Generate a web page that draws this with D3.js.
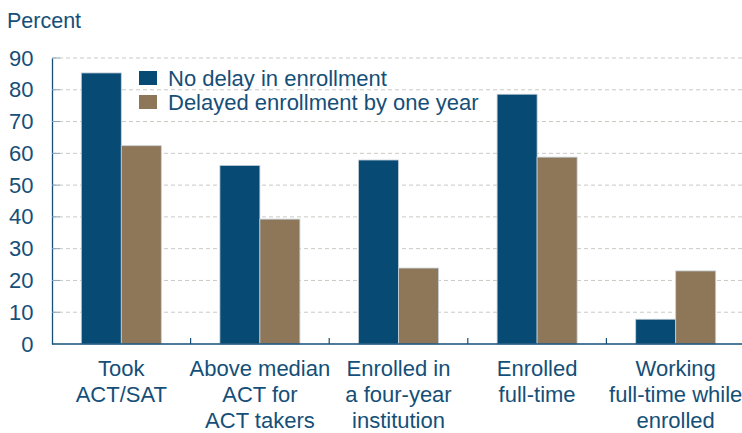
<!DOCTYPE html>
<html><head><meta charset="utf-8">
<script src="https://cdn.jsdelivr.net/npm/d3@7"></script>
<style>body{margin:0;background:#fff}svg{display:block;font-family:"Liberation Sans",Arial,sans-serif}</style>
</head><body><svg id="c" width="742" height="433"></svg>
<script>
const categories = [
  ["Took","ACT/SAT"],
  ["Above median","ACT for","ACT takers"],
  ["Enrolled in","a four-year","institution"],
  ["Enrolled","full-time"],
  ["Working","full-time while","enrolled"]
];
const noDelay = [85.3, 56.2, 57.9, 78.6, 7.8];
const delayed = [62.4, 39.3, 23.9, 58.8, 23.0];
const seriesNames = ["No delay in enrollment","Delayed enrollment by one year"];
const yTicks = [0,10,20,30,40,50,60,70,80,90];
const colors = ["#074b75","#8e7659"];
const textColor = "#154f78";

const svg = d3.select("#c");
const L = 52, R = 745, T = 58, B = 344;
const x = d3.scaleBand().domain(d3.range(categories.length)).range([L, R]).paddingInner(0).paddingOuter(0);
const y = d3.scaleLinear().domain([0, 90]).range([B, T]);
const inner = d3.scaleBand().domain([0,1]).range([0, 80]);
const groupOff = (x.bandwidth() - 80) / 2;

// gridlines
svg.append("g").selectAll("line").data(yTicks.filter(d => d > 0)).join("line")
  .attr("x1", L).attr("x2", 742).attr("y1", d => y(d)).attr("y2", d => y(d))
  .attr("stroke", "#c9c9c4").attr("stroke-dasharray", "4,3").attr("stroke-width", 1);

// bars
const data = categories.map((c, i) => [noDelay[i], delayed[i]]);
const g = svg.append("g");
data.forEach((vals, i) => {
  vals.forEach((v, s) => {
    g.append("rect")
      .attr("x", x(i) + groupOff + inner(s))
      .attr("width", inner.bandwidth())
      .attr("y", y(v))
      .attr("height", y(0) - y(v))
      .attr("fill", colors[s])
      .attr("stroke", "#c5d0d8").attr("stroke-width", 0.8);
  });
});

// y axis
const yAxis = d3.axisLeft(y).tickValues(yTicks).tickSize(0).tickPadding(18.5);
const ya = svg.append("g").attr("transform", `translate(${L},0)`).call(yAxis);
ya.select(".domain").attr("stroke", textColor).attr("stroke-width", 1.3);
ya.selectAll("text").attr("fill", textColor).attr("font-size", 22).attr("font-family", "Liberation Sans, Arial, sans-serif");
// inward ticks
svg.append("g").selectAll("line").data(yTicks.filter(d=>d>0)).join("line")
  .attr("x1", L).attr("x2", L + 8).attr("y1", d => y(d)).attr("y2", d => y(d))
  .attr("stroke", "#8aa3b8").attr("stroke-width", 1);

// x axis
svg.append("line").attr("x1", L).attr("x2", 742).attr("y1", B).attr("y2", B)
  .attr("stroke", textColor).attr("stroke-width", 1.5);
svg.append("g").selectAll("line").data(d3.range(1, categories.length)).join("line")
  .attr("x1", d => x(d)).attr("x2", d => x(d)).attr("y1", B).attr("y2", B - 6)
  .attr("stroke", textColor).attr("stroke-width", 1.2);

// category labels
categories.forEach((lines, i) => {
  const t = svg.append("text").attr("text-anchor", "middle").attr("fill", textColor).attr("font-size", 22);
  lines.forEach((ln, k) => {
    t.append("tspan").attr("x", x(i) + x.bandwidth() / 2).attr("y", 376 + k * 26.2).text(ln);
  });
});

// y title
svg.append("text").attr("x", 7).attr("y", 28).attr("fill", textColor).attr("font-size", 21.5).text("Percent");

// legend
seriesNames.forEach((n, s) => {
  svg.append("rect").attr("x", 139).attr("y", 71 + s * 24).attr("width", 18).attr("height", 14).attr("fill", colors[s]);
  svg.append("text").attr("x", 168).attr("y", 86 + s * 24).attr("fill", textColor).attr("font-size", 22).text(n);
});
</script></body></html>
